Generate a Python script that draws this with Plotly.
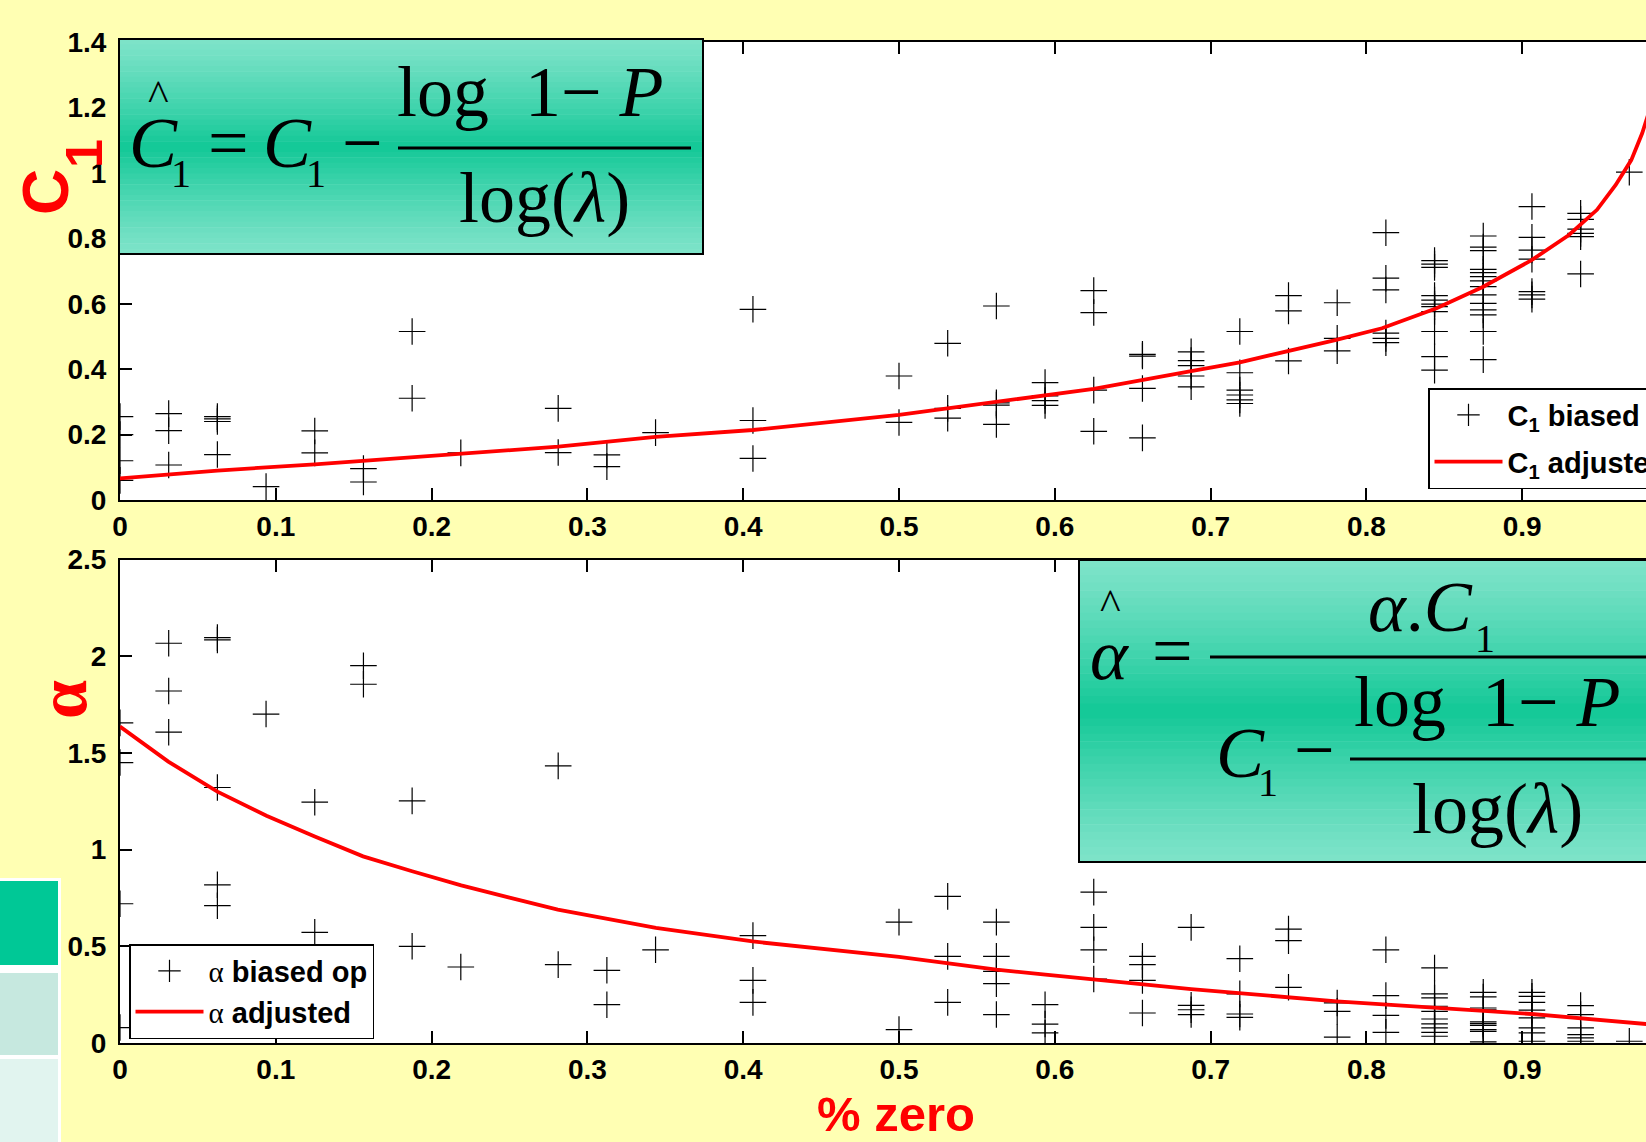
import plotly.graph_objects as go

# ---------------- data ----------------
xticks = [0, 0.1, 0.2, 0.3, 0.4, 0.5, 0.6, 0.7, 0.8, 0.9]
xtick_labels = ["0", "0.1", "0.2", "0.3", "0.4", "0.5", "0.6", "0.7", "0.8", "0.9"]
c1_ticks = [0, 0.2, 0.4, 0.6, 0.8, 1.0, 1.2, 1.4]
c1_tick_labels = ["0", "0.2", "0.4", "0.6", "0.8", "1", "1.2", "1.4"]
al_ticks = [0, 0.5, 1.0, 1.5, 2.0, 2.5]
al_tick_labels = ["0", "0.5", "1", "1.5", "2", "2.5"]

# C1 biased op (x = fraction of zeros, y = C1)
c1_cols = [0, 0.03125, 0.0625, 0.09375, 0.125, 0.15625, 0.1875, 0.21875, 0.28125,
           0.3125, 0.34375, 0.40625, 0.5, 0.53125, 0.5625, 0.59375, 0.625, 0.65625,
           0.6875, 0.71875, 0.75, 0.78125, 0.8125, 0.84375, 0.875, 0.90625, 0.9375, 0.96875]
c1_vals = [
    [0.255, 0.20, 0.12, 0.06],
    [0.264, 0.212, 0.107],
    [0.255, 0.248, 0.240, 0.139],
    [0.041],
    [0.211, 0.144],
    [0.096, 0.055],
    [0.515, 0.311],
    [0.144],
    [0.280, 0.145],
    [0.138, 0.102],
    [0.206],
    [0.583, 0.243, 0.127],
    [0.379, 0.237],
    [0.479, 0.280, 0.250],
    [0.593, 0.297, 0.290, 0.231],
    [0.359, 0.318, 0.304, 0.289],
    [0.640, 0.573, 0.336, 0.210],
    [0.445, 0.440, 0.341, 0.190],
    [0.453, 0.426, 0.411, 0.379, 0.346],
    [0.515, 0.389, 0.336, 0.321, 0.306, 0.295],
    [0.625, 0.578, 0.425],
    [0.603, 0.494, 0.456],
    [0.817, 0.678, 0.642, 0.510, 0.494, 0.481],
    [0.732, 0.721, 0.711, 0.625, 0.611, 0.599, 0.591, 0.576, 0.515, 0.438, 0.397],
    [0.807, 0.773, 0.762, 0.705, 0.695, 0.683, 0.670, 0.652, 0.627, 0.601, 0.581, 0.566, 0.515, 0.429],
    [0.897, 0.803, 0.764, 0.736, 0.637, 0.627, 0.614],
    [0.876, 0.858, 0.828, 0.815, 0.805, 0.691],
    [1.002],
]
# C1 adjusted curve
c1_adj_x = [0, 0.0625, 0.125, 0.1875, 0.25, 0.28125, 0.34375, 0.40625, 0.5, 0.5625, 0.625,
            0.6875, 0.71875, 0.78, 0.81, 0.845, 0.875, 0.906, 0.93, 0.948, 0.96, 0.97, 0.977, 0.985]
c1_adj_y = [0.066, 0.090, 0.109, 0.130, 0.152, 0.163, 0.193, 0.214, 0.260, 0.300, 0.340,
            0.394, 0.421, 0.489, 0.525, 0.586, 0.652, 0.733, 0.810, 0.887, 0.963, 1.039, 1.121, 1.24]

# alpha biased op
al_cols = c1_cols
al_vals = [
    [1.655, 1.45, 0.72, 0.08],
    [2.067, 1.820, 1.607],
    [2.096, 2.084, 1.321, 0.818, 0.710],
    [1.701],
    [1.245, 0.572],
    [1.951, 1.855],
    [1.252, 0.50],
    [0.393],
    [1.433, 0.405],
    [0.376, 0.198],
    [0.482],
    [0.555, 0.324, 0.210],
    [0.625, 0.069],
    [0.758, 0.448, 0.210],
    [0.625, 0.448, 0.370, 0.307, 0.147],
    [0.198, 0.098, 0.052],
    [0.780, 0.598, 0.482, 0.331],
    [0.448, 0.405, 0.324, 0.155],
    [0.598, 0.195, 0.172, 0.147],
    [0.436, 0.254, 0.150, 0.133],
    [0.589, 0.529, 0.288],
    [0.207, 0.164, 0.030],
    [0.482, 0.245, 0.143, 0.055],
    [0.388, 0.254, 0.233, 0.190, 0.164, 0.124, 0.099, 0.078, 0.055, 0.035],
    [0.262, 0.238, 0.181, 0.172, 0.109, 0.100, 0.091, 0.069, 0.060, 0.006],
    [0.262, 0.241, 0.21, 0.17, 0.130, 0.078, 0.052, 0.009],
    [0.193, 0.147, 0.078, 0.043, 0.026, 0.009],
    [0.009],
]
# alpha adjusted curve
al_adj_x = [0, 0.031, 0.0625, 0.094, 0.125, 0.156, 0.1875, 0.219, 0.25, 0.281, 0.344, 0.406,
            0.5, 0.5625, 0.594, 0.6875, 0.781, 0.844, 0.906, 0.98]
al_adj_y = [1.636, 1.455, 1.300, 1.175, 1.068, 0.965, 0.888, 0.815, 0.752, 0.690, 0.595, 0.525,
            0.445, 0.379, 0.353, 0.279, 0.215, 0.181, 0.150, 0.098]

c1_x = [c for c, vs in zip(c1_cols, c1_vals) for _ in vs]
c1_y = [v for vs in c1_vals for v in vs]
al_x = [c for c, vs in zip(al_cols, al_vals) for _ in vs]
al_y = [v for vs in al_vals for v in vs]

# ---------------- layout helpers ----------------
W, H = 1646, 1142
ML, MR, MT, MB = 120, 0, 42, 99
PW, PH = W - ML - MR, H - MT - MB


def px(x):
    return (x - ML) / PW


def py(y):
    return (H - MB - y) / PH


SANS = "Liberation Sans, Arial, sans-serif"
SERIF = "Liberation Serif, Times New Roman, serif"
BG = "#FFFFB3"

fig = go.Figure()
cross = dict(symbol="cross-thin", size=19, color="black", line=dict(color="black", width=1.2))
fig.add_trace(go.Scatter(x=c1_x, y=c1_y, mode="markers", marker=cross, legendgroup="a",
                         name="C<sub>1</sub> biased op", xaxis="x", yaxis="y", legend="legend"))
fig.add_trace(go.Scatter(x=c1_adj_x, y=c1_adj_y, mode="lines", line=dict(color="red", width=3.8),
                         legendgroup="b",
                         name="C<sub>1</sub> adjusted", xaxis="x", yaxis="y", legend="legend"))
alpha_span = "<span style='font-family:Liberation Serif;font-weight:normal'>α</span>"
fig.add_trace(go.Scatter(x=al_x, y=al_y, mode="markers", marker=cross, legendgroup="c",
                         name=alpha_span + " biased op", xaxis="x2", yaxis="y2", legend="legend2"))
fig.add_trace(go.Scatter(x=al_adj_x, y=al_adj_y, mode="lines", line=dict(color="red", width=3.8),
                         legendgroup="d",
                         name=alpha_span + " adjusted", xaxis="x2", yaxis="y2", legend="legend2"))

tickfont = dict(family=SANS, size=28, color="black", weight="bold")
xrange = [0, (W - ML) / 1558.0]
common_x = dict(range=xrange, tickvals=xticks, ticktext=xtick_labels, ticks="inside", ticklen=12,
                tickwidth=1.5, tickcolor="black", showline=True, linecolor="black", linewidth=2,
                mirror="ticks", showgrid=False, zeroline=False, tickfont=tickfont)
common_y = dict(ticks="inside", ticklen=12, tickwidth=1.5, tickcolor="black", showline=True,
                linecolor="black", linewidth=2, mirror=False, showgrid=False, zeroline=False,
                tickfont=tickfont, ticklabelstandoff=6)

shapes = []


def rect(x0, y0, x1, y1, fill, line=None, lw=0):
    d = dict(type="rect", xref="paper", yref="paper", x0=px(x0), x1=px(x1), y0=py(y0), y1=py(y1),
             fillcolor=fill, layer="above", line=dict(width=lw, color=line or "rgba(0,0,0,0)"))
    shapes.append(d)


def mix(c1, c2, t):
    a = [int(c1[i:i + 2], 16) for i in (1, 3, 5)]
    b = [int(c2[i:i + 2], 16) for i in (1, 3, 5)]
    return "rgb(%d,%d,%d)" % tuple(round(a[k] + (b[k] - a[k]) * t) for k in range(3))


def grad_box(x0, y0, x1, y1, n=40):
    light, dark = "#7EE3C9", "#12C897"
    h = (y1 - y0) / n
    for i in range(n):
        t = (i + 0.5) / n
        w = 1 - abs(2 * t - 1)
        rect(x0, y0 + i * h, x1, y0 + (i + 1) * h + 0.6, mix(light, dark, w ** 1.2))
    shapes.append(dict(type="rect", xref="paper", yref="paper", x0=px(x0), x1=px(x1), y0=py(y0),
                       y1=py(y1), layer="above", line=dict(color="black", width=2)))


def hline(x0, x1, y, w=3):
    shapes.append(dict(type="line", xref="paper", yref="paper", x0=px(x0), x1=px(x1), y0=py(y),
                       y1=py(y), layer="above", line=dict(color="black", width=w)))


# left slide decorations
rect(0, 878, 61, 1142, "white")
rect(0, 881, 58, 965, "#00C896")
rect(0, 973, 58, 1055, "#C6E8DF")
rect(0, 1059, 58, 1142, "#E1F4EF")

# formula boxes
grad_box(119, 39, 703, 254)
hline(398, 691, 148)
grad_box(1079, 560, 1700, 862)
hline(1210, 1700, 657)
hline(1350, 1700, 759)

ann = []


def text(t, x, y, size, family=SERIF, color="black", xanchor="center", yanchor="middle",
         angle=0):
    ann.append(dict(text=t, x=px(x), y=py(y), xref="paper", yref="paper", showarrow=False,
                    xanchor=xanchor, yanchor=yanchor, textangle=angle,
                    font=dict(family=family, size=size, color=color)))


S = 72
# top formula
text("^", 158, 96, 44)
text("<i>C</i>", 127, 143, S, xanchor="left")
text("1", 181, 173, 40)
text("=", 228, 143, S)
text("<i>C</i>", 261, 143, S, xanchor="left")
text("1", 316, 173, 40)
text("\u2212", 362, 143, S)
text("log\u00a0\u00a01\u2212\u00a0<i>P</i>", 530, 92, S)
text("log(<i>λ</i>)", 544, 198, S)
# bottom formula
text("^", 1110, 605, 44)
text("<i>α</i>", 1109, 655, S)
text("=", 1172, 651, S)
text("<i>α</i>.<i>C</i>", 1366, 607, S, xanchor="left")
text("1", 1485, 638, 40)
text("<i>C</i>", 1214, 753, S, xanchor="left")
text("1", 1268, 782, 40)
text("\u2212", 1314, 750, S)
text("log\u00a0\u00a01\u2212\u00a0<i>P</i>", 1352, 702, S, xanchor="left")
text("log(<i>λ</i>)", 1497, 809, S)

# axis titles
text("<b>C</b>", 46, 192, 64, family=SANS, color="red", angle=-90)
text("<b>1</b>", 84, 154, 52, family=SANS, color="red", angle=-90)
text("<b>α</b>", 62, 700, 70, family=SERIF, color="red", angle=-90)
text("<b>% zero</b>", 896, 1114, 49, family=SANS, color="red")

legend_common = dict(xref="paper", yref="paper", xanchor="left", yanchor="top", bgcolor="white",
                     bordercolor="black", borderwidth=1.5,
                     font=dict(family=SANS, size=29, color="black", weight="bold"),
                     itemwidth=68)

fig.update_layout(
    width=W, height=H,
    margin=dict(l=ML, r=MR, t=MT, b=MB, autoexpand=False),
    paper_bgcolor=BG, plot_bgcolor="white",
    showlegend=True,
    xaxis=dict(domain=[0, 1], anchor="y", **common_x),
    yaxis=dict(domain=[py(500), 1], anchor="x", range=[0, 1.4], tickvals=c1_ticks,
               ticktext=c1_tick_labels, **common_y),
    xaxis2=dict(domain=[0, 1], anchor="y2", **common_x),
    yaxis2=dict(domain=[0, py(559.5)], anchor="x2", range=[0, 2.5], tickvals=al_ticks,
                ticktext=al_tick_labels, **common_y),
    legend=dict(x=px(1428), y=py(388), tracegroupgap=6, **legend_common),
    legend2=dict(x=px(129), y=py(944), tracegroupgap=0, **legend_common),
    shapes=shapes,
    annotations=ann,
)

fig.write_html(
    "out.html",
    config={"displayModeBar": False},
    post_script="document.body.style.margin='0px';document.body.style.overflow='hidden';",
)
